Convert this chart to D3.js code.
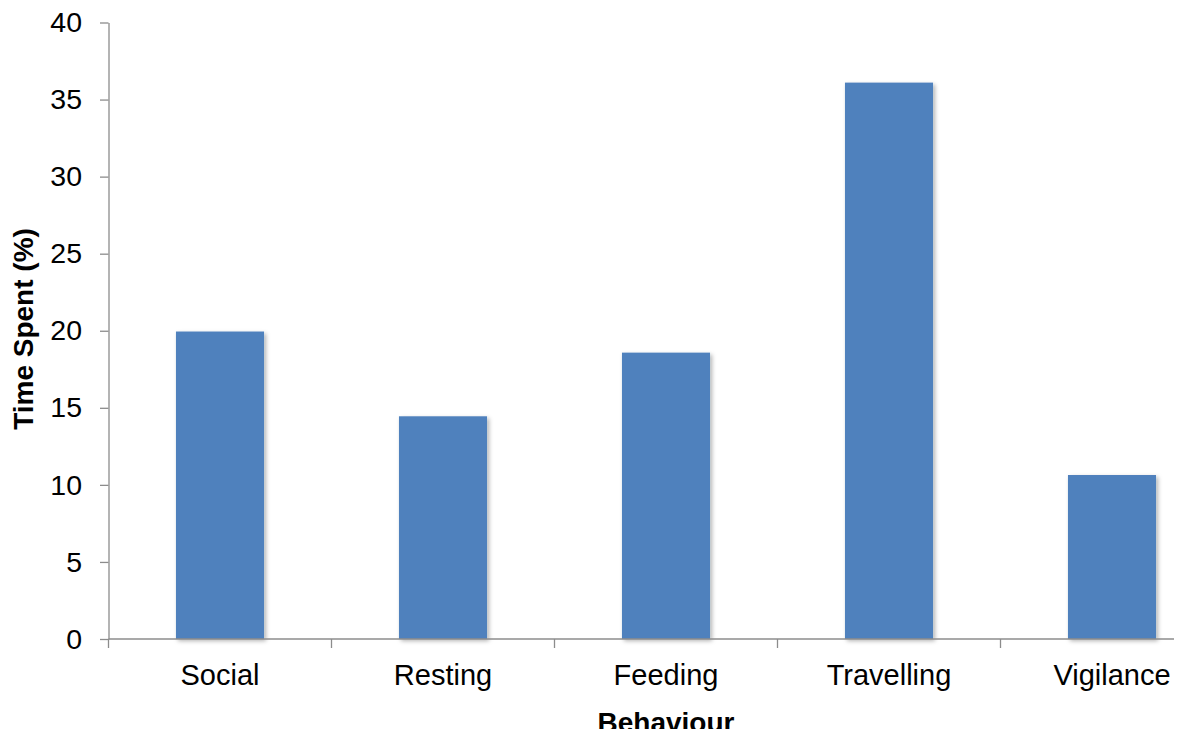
<!DOCTYPE html>
<html>
<head>
<meta charset="utf-8">
<script src="https://cdn.jsdelivr.net/npm/d3@7"></script>
<style>
  html, body { margin: 0; padding: 0; background: #fff; }
  svg { display: block; }
  text { font-family: "Liberation Sans", Arial, sans-serif; fill: #000; }
</style>
</head>
<body>
<svg id="chart" width="1179" height="729"></svg>
<script>
const categories = ["Social", "Resting", "Feeding", "Travelling", "Vigilance"];
const values = [19.95, 14.45, 18.58, 36.1, 10.64];
const yTicks = [0, 5, 10, 15, 20, 25, 30, 35, 40];
const yTitle = "Time Spent (%)";
const xTitle = "Behaviour";

(function () {
const svg = d3.select("#chart");
const plotLeft = 108.5, plotBottom = 639, plotTop = 22.5, bandRight = 1223.5, axisRight = 1174;

const defs = svg.append("defs");
const f = defs.append("filter").attr("id", "shadow").attr("x", "-10%").attr("y", "-10%").attr("width", "130%").attr("height", "130%");
f.append("feDropShadow").attr("dx", 2).attr("dy", 2).attr("stdDeviation", 2)
  .attr("flood-color", "#000").attr("flood-opacity", 0.3);

const x = d3.scaleBand().domain(categories).range([plotLeft, bandRight]).paddingInner(0.605).paddingOuter(0.3025);
const xb = d3.scaleBand().domain(categories).range([plotLeft, bandRight]).padding(0);
const y = d3.scaleLinear().domain([0, 40]).range([plotBottom, plotTop]);

// bars
svg.append("g").selectAll("rect").data(categories).join("rect")
  .attr("x", d => x(d))
  .attr("width", x.bandwidth())
  .attr("y", (d, i) => y(values[i]))
  .attr("height", (d, i) => y(0) - y(values[i]))
  .attr("fill", "#4F81BD")
  .attr("filter", "url(#shadow)");

const axisColor = "#8c8c8c";

// y axis
const yAxis = svg.append("g").attr("transform", `translate(${plotLeft},0)`)
  .call(d3.axisLeft(y).tickValues(yTicks).tickSize(8.5).tickPadding(18).tickSizeOuter(0));
yAxis.select(".domain").attr("stroke", axisColor).attr("stroke-width", 1.3);
yAxis.selectAll(".tick line").attr("stroke", axisColor).attr("stroke-width", 1.3);
yAxis.selectAll(".tick text").attr("font-size", 28.5).attr("font-family", "Liberation Sans, Arial, sans-serif").attr("fill", "#000");

// x axis line
svg.append("line").attr("x1", plotLeft).attr("x2", axisRight).attr("y1", plotBottom).attr("y2", plotBottom)
  .attr("stroke", axisColor).attr("stroke-width", 1.3);
// category boundary ticks
const bounds = categories.map(c => xb(c)).filter(v => v <= axisRight);
svg.append("g").selectAll("line").data(bounds).join("line")
  .attr("x1", d => d).attr("x2", d => d).attr("y1", plotBottom).attr("y2", plotBottom + 9)
  .attr("stroke", axisColor).attr("stroke-width", 1.3);
// category labels
svg.append("g").selectAll("text").data(categories).join("text")
  .attr("x", d => xb(d) + xb.bandwidth() / 2)
  .attr("y", 685)
  .attr("text-anchor", "middle")
  .attr("font-size", 29)
  .text(d => d);

// axis titles
svg.append("text")
  .attr("transform", "translate(33,329) rotate(-90)")
  .attr("text-anchor", "middle")
  .attr("font-size", 28)
  .attr("font-weight", "bold")
  .text(yTitle);
svg.append("text")
  .attr("x", (plotLeft + bandRight) / 2)
  .attr("y", 732)
  .attr("text-anchor", "middle")
  .attr("font-size", 28)
  .attr("font-weight", "bold")
  .text(xTitle);
})();
</script>
</body>
</html>
